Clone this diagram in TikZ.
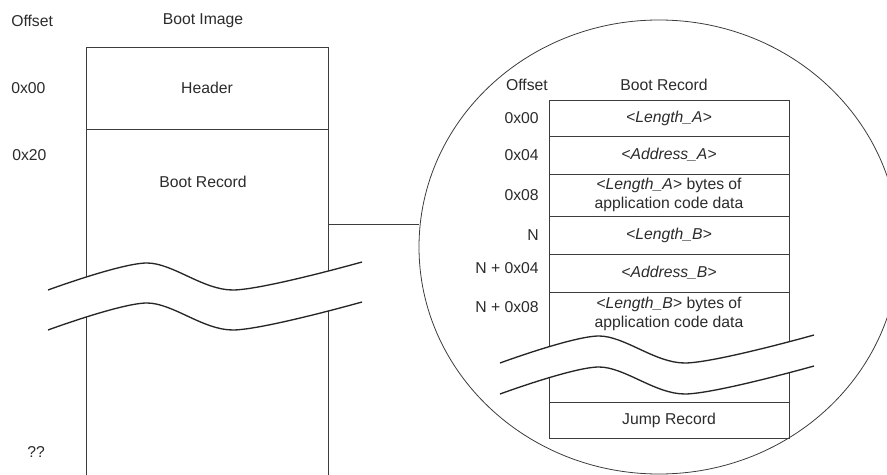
\documentclass[tikz,border=0pt]{standalone}
\usepackage{fontspec}
\setmainfont{Liberation Sans}
\usetikzlibrary{positioning,shapes.geometric}
\definecolor{ink}{HTML}{2B2B2B}
\definecolor{rule}{HTML}{3C3C3C}
\tikzstyle{cell} = [draw=rule, line width=0.6pt, inner sep=0pt, outer sep=0pt, align=center, text=ink]
\tikzstyle{txt} = [inner sep=0pt, text=ink, align=center]
\tikzstyle{ofs} = [txt, anchor=east]
\tikzstyle{lft} = [txt, anchor=west]
\tikzstyle{wave} = [draw=black!85, line width=1pt]
\tikzstyle{line} = [draw=rule, line width=0.6pt]
% break mark: #1,#2 start of upper wave, #3 gap to the lower wave
\newcommand{\cutmark}[3]{%
  \begin{scope}[shift={(#1,#2)}]
    \fill[white] plot[smooth] coordinates {(0,0) (99,-27) (185,0) (314,-28)}
      -- (314,#3-28) -- plot[smooth] coordinates {(314,#3-28) (185,#3) (99,#3-27) (0,#3)} -- cycle;
    \draw[wave] plot[smooth] coordinates {(0,0) (99,-27) (185,0) (314,-28)};
    \draw[wave] plot[smooth] coordinates {(0,#3) (99,#3-27) (185,#3) (314,#3-28)};
  \end{scope}}

\begin{document}
\begin{tikzpicture}[x=0.75pt, y=-0.75pt, font=\fontsize{11.8}{14.4}\selectfont]
        \useasboundingbox (0,0) rectangle (887,474);
        \clip (0,0) rectangle (887,474);
        % boot image
        \node[lft] (ofshead) at (11,21) {Offset};
        \node[txt] (imghead) at (203,21) {Boot Image};
        \node[cell, minimum width=181.5pt, minimum height=61.5pt] (hdr) at (207,88) {Header};
        \node[cell, minimum width=181.5pt, minimum height=278.25pt, below=0pt of hdr] (rec) {};
        \node[txt] (rectext) at (203,182) {Boot Record};
        \node[lft] at (11,88) {0x00};
        \node[lft] at (12,155) {0x20};
        \node[lft] at (27,452) {??};
        % zoomed boot record
        \node[draw=rule, line width=0.6pt, ellipse, minimum width=360pt, minimum height=340.5pt, inner sep=0pt] (zoom) at (659,247) {};
        \coordinate (tap) at (rec.east |- 0,224);
        \draw[line] (tap) -- (tap -| zoom.west);
        \node[txt, anchor=east] (ofshead2) at (548,85) {Offset};
        \node[txt] (rechead) at (664,85) {Boot Record};
        \node[cell, minimum width=180pt, minimum height=27pt] (r1) at (669,118) {\itshape <Length\_A>};
        \node[cell, minimum width=180pt, minimum height=28.5pt, below=0pt of r1] (r2) {\itshape <Address\_A>};
        \node[cell, minimum width=180pt, minimum height=31.5pt, below=0pt of r2] (r3) {\textit{<Length\_A>} bytes of\\application code data};
        \node[cell, minimum width=180pt, minimum height=28.5pt, below=0pt of r3] (r4) {\itshape <Length\_B>};
        \node[cell, minimum width=180pt, minimum height=28.5pt, below=0pt of r4] (r5) {\itshape <Address\_B>};
        \node[cell, minimum width=180pt, minimum height=82.5pt, below=0pt of r5] (r6) {};
        \node[cell, minimum width=180pt, minimum height=27pt, below=0pt of r6] (r7) {Jump Record};
        \node[txt, below=3.5pt of r6.north] (r6text) {\textit{<Length\_B>} bytes of\\application code data};
        \node[ofs, left=7.5pt of r1] {0x00};
        \node[ofs, left=7.5pt of r2] {0x04};
        \node[ofs, left=7.5pt of r3] {0x08};
        \node[ofs, left=7.5pt of r4] {N};
        \node[ofs] at (539,268) {N + 0x04};
        \node[ofs] at (539,307) {N + 0x08};
        % break marks
        \cutmark{48}{290}{40}
        \cutmark{500}{363}{31}
      \end{tikzpicture}
\end{document}
